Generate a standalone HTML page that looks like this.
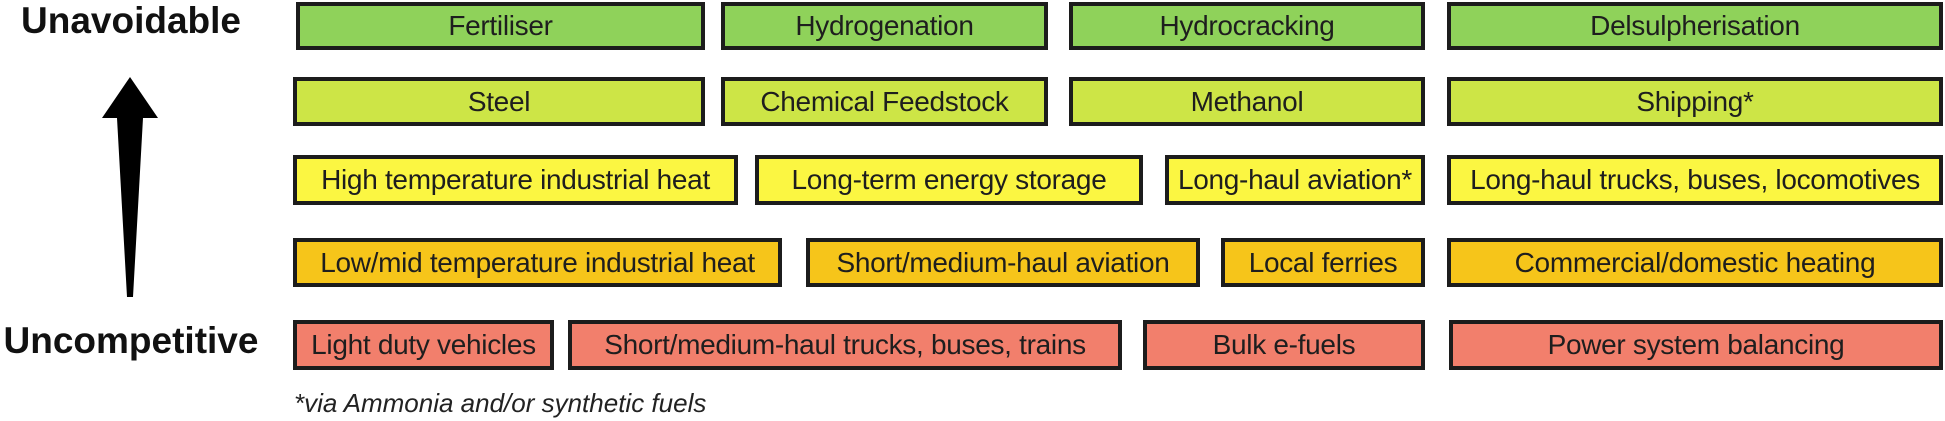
<!DOCTYPE html>
<html><head><meta charset="utf-8"><style>
body{margin:0;width:1945px;height:421px;background:#fff;position:relative;overflow:hidden;font-family:"Liberation Sans",sans-serif}
.b{position:absolute;box-sizing:border-box;border:4px solid #1c1c1c;display:flex;align-items:center;justify-content:center;font-size:28px;color:#1e1e1e;white-space:nowrap;letter-spacing:-0.3px}
.g{background:#8fd25a}.l{background:#cde546}.y{background:#fbf642}.o{background:#f6c51a}.r{background:#f27f6c}
.t{position:absolute;font-weight:bold;font-size:37px;color:#111;width:262px;text-align:center;left:0}
</style></head><body>
<div class="t" style="top:0px">Unavoidable</div>
<div class="t" style="top:320px">Uncompetitive</div>
<svg style="position:absolute;left:0;top:0" width="300" height="421"><polygon points="130,77 158,118 143,118 133,297 127,297 117,118 102,118" fill="#000"/></svg>

<div class="b g" style="left:296px;top:2px;width:409px;height:48px">Fertiliser</div>
<div class="b g" style="left:721px;top:2px;width:327px;height:48px">Hydrogenation</div>
<div class="b g" style="left:1069px;top:2px;width:356px;height:48px">Hydrocracking</div>
<div class="b g" style="left:1447px;top:2px;width:496px;height:48px">Delsulpherisation</div>

<div class="b l" style="left:293px;top:77px;width:412px;height:49px">Steel</div>
<div class="b l" style="left:721px;top:77px;width:327px;height:49px">Chemical Feedstock</div>
<div class="b l" style="left:1069px;top:77px;width:356px;height:49px">Methanol</div>
<div class="b l" style="left:1447px;top:77px;width:496px;height:49px">Shipping*</div>

<div class="b y" style="left:293px;top:155px;width:445px;height:50px">High temperature industrial heat</div>
<div class="b y" style="left:755px;top:155px;width:388px;height:50px">Long-term energy storage</div>
<div class="b y" style="left:1165px;top:155px;width:260px;height:50px">Long-haul aviation*</div>
<div class="b y" style="left:1447px;top:155px;width:496px;height:50px">Long-haul trucks, buses, locomotives</div>

<div class="b o" style="left:293px;top:238px;width:489px;height:49px">Low/mid temperature industrial heat</div>
<div class="b o" style="left:806px;top:238px;width:394px;height:49px">Short/medium-haul aviation</div>
<div class="b o" style="left:1221px;top:238px;width:204px;height:49px">Local ferries</div>
<div class="b o" style="left:1447px;top:238px;width:496px;height:49px">Commercial/domestic heating</div>

<div class="b r" style="left:293px;top:320px;width:261px;height:50px">Light duty vehicles</div>
<div class="b r" style="left:568px;top:320px;width:554px;height:50px">Short/medium-haul trucks, buses, trains</div>
<div class="b r" style="left:1143px;top:320px;width:282px;height:50px">Bulk e-fuels</div>
<div class="b r" style="left:1449px;top:320px;width:494px;height:50px">Power system balancing</div>

<div style="position:absolute;left:294px;top:388px;font-style:italic;font-size:26px;color:#222">*via Ammonia and/or synthetic fuels</div>
</body></html>
